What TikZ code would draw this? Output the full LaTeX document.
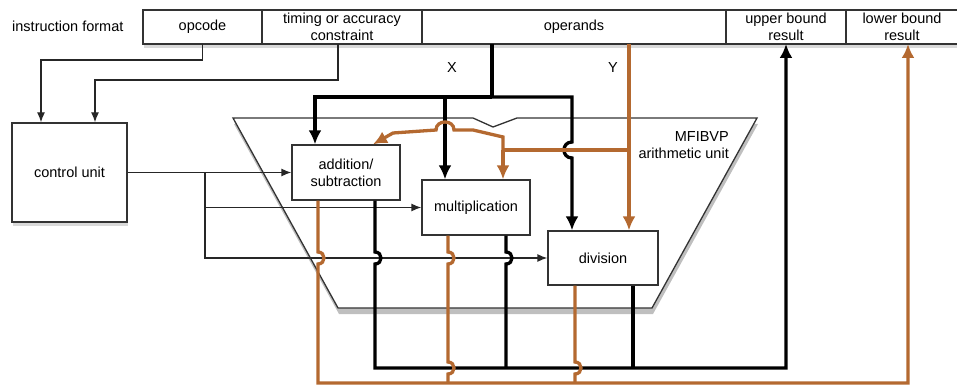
\documentclass[tikz,border=0pt]{standalone}
\usepackage{fontspec}
\setmainfont{Liberation Sans}
\usepackage{tikz}
\usetikzlibrary{arrows.meta,positioning,shadows}
\definecolor{resorange}{RGB}{180,105,48}

\begin{document}
\begin{tikzpicture}[x=1pt, y=-1pt, font=\fontsize{14.5}{17}\selectfont,
    cell/.style={rectangle, draw=black!80, fill=white, line width=1.3pt, minimum height=34pt, inner sep=0pt, outer sep=0pt, align=center},
    unit/.style={rectangle, draw=black!80, fill=white, line width=1.3pt, inner sep=0pt, align=center},
    shade/.style={drop shadow={shadow xshift=1pt, shadow yshift=-4pt, opacity=0.3}},
    ctl/.style={draw, black!85, line width=1.3pt, -{Latex[length=10pt,width=8pt]}},
    xbus/.style={draw, line width=3.3pt},
    ybus/.style={draw, resorange, line width=3.3pt},
    head/.style={-{Latex[length=14pt,width=13pt]}}]
    \useasboundingbox (0,0) rectangle (957,387);

    % instruction word
    \node [anchor=west, inner sep=0pt] (fmt) at (12,26) {instruction format};
    \node [cell, shade, minimum width=119pt] (opcode) at (202.5,27) {opcode};
    \node [cell, shade, minimum width=160pt, right=0pt of opcode] (timing) {timing or accuracy\\constraint};
    \node [cell, shade, minimum width=304pt, right=0pt of timing] (operands) {operands};
    \node [cell, shade, minimum width=120pt, right=0pt of operands] (upper) {upper bound\\result};
    \node [cell, shade, minimum width=112pt, right=0pt of upper] (lower) {lower bound\\result};

    \node [unit, shade, minimum width=115pt, minimum height=99pt] (cu) at (69.5,172.5) {control unit};

    % arithmetic unit outline
    \fill [black, opacity=0.25, shift={(1,6)}] (233,118) -- (473,118) -- (493,127) -- (517,118) -- (757,118) -- (652,308) -- (338,308) -- cycle;
    \filldraw [fill=white, draw=black!80, line width=1.3pt] (233,118) -- (473,118) -- (493,127) -- (517,118) -- (757,118) -- (652,308) -- (338,308) -- cycle;
    \node [anchor=north east, align=right, inner sep=0pt] (aulabel) at (729,131) {MFIBVP\\arithmetic unit};

    \node [unit, minimum width=108pt, minimum height=55pt] (addsub) at (346,172.5) {addition/\\subtraction};
    \node [unit, minimum width=108pt, minimum height=55pt] (mult) at (476,207.5) {multiplication};
    \node [unit, minimum width=110pt, minimum height=54pt] (div) at (603,258) {division};

    % control
    \draw [ctl] (opcode.south) -- ++(0,16) -| ([xshift=-28.5pt]cu.north);
    \draw [ctl] ([xshift=-4pt]timing.south) -- ++(0,36) -| ([xshift=25.5pt]cu.north);
    \draw [ctl] (cu.east) -- (addsub.west);
    \coordinate (fork) at (205,172.5);
    \draw [ctl] (fork) |- (mult.west);
    \draw [ctl] (fork) |- (div.west);

    % operand X
    \coordinate (xtap) at ([xshift=-82pt]operands.south);
    \coordinate (xfork) at (492,97);
    \node (xlabel) at (452,68) {X};
    \draw [xbus] (xtap) -- (xfork);
    \draw [xbus, head] (xfork) -| ([xshift=-31pt]addsub.north);
    \draw [xbus, head] ([xshift=-31pt]mult.north |- xfork) -- ([xshift=-31pt]mult.north);
    \draw [xbus, head] (xfork) -| (572,142) .. controls (561.3,142) and (561.3,158) .. (572,158) -- ([xshift=-31pt]div.north);

    % operand Y
    \coordinate (ytap) at ([xshift=55pt]operands.south);
    \coordinate (yfork) at (503,150);
    \node (ylabel) at (613,68) {Y};
    \draw [ybus, head] (ytap) -- ([xshift=26pt]div.north);
    \draw [ybus] (ytap |- yfork) -- (yfork);
    \draw [ybus, head] (yfork) -- ([xshift=27pt]mult.north);
    \draw [ybus, head] (yfork) -- (503,137) -- (473,130) -- (454,130) .. controls (454,119.3) and (436,119.3) .. (436,130) -- (393,133) -- ([xshift=27pt]addsub.north);

    % upper bound results
    \draw [xbus, head] ([xshift=29pt]addsub.south) -- (375,252) .. controls (383,252) and (383,264) .. (375,264) -- (375,368) -| (upper.south);
    \draw [xbus] ([xshift=30pt]mult.south) -- (506,252) .. controls (514,252) and (514,264) .. (506,264) -- (506,368);
    \draw [xbus] ([xshift=30pt]div.south) -- (633,368);

    % lower bound results
    \draw [ybus, head] ([xshift=-28pt]addsub.south) -- (318,252) .. controls (326,252) and (326,264) .. (318,264) -- (318,383) -| ([xshift=6pt]lower.south);
    \draw [ybus] ([xshift=-28pt]mult.south) -- (448,252) .. controls (456,252) and (456,264) .. (448,264) -- (448,362) .. controls (456,362) and (456,374) .. (448,374) -- (448,383);
    \draw [ybus] ([xshift=-28pt]div.south) -- (575,362) .. controls (583,362) and (583,374) .. (575,374) -- (575,383);
\end{tikzpicture}
\end{document}
